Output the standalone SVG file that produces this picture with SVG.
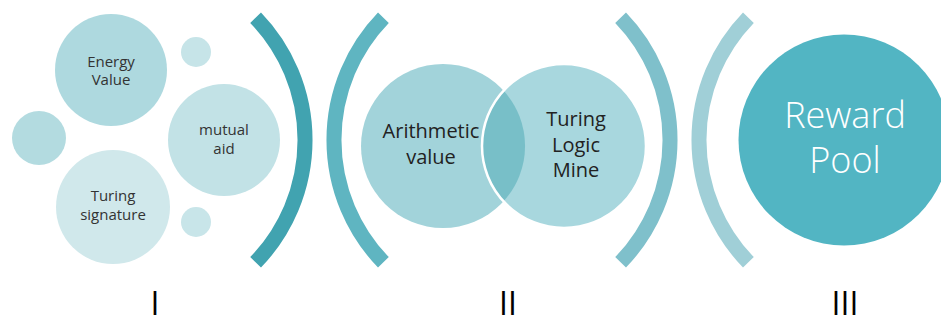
<svg xmlns="http://www.w3.org/2000/svg" width="941" height="325" viewBox="0 0 941 325">
<style>
  text { font-family: "Open Sans", "Liberation Sans", sans-serif; text-anchor: middle; }
  .s { font-size: 15px; fill: #333333; }
  .m { font-size: 20px; fill: #222222; }
  .big { font-size: 36px; fill: #ffffff; font-weight: 300; }
  .num { font-size: 32px; fill: #000000; font-weight: 400; }
  .arc { fill: none; stroke-width: 15; stroke-linecap: butt; }
</style>
<rect width="941" height="325" fill="#ffffff"/>

<g id="stage1">
  <g id="energy-value">
    <circle cx="111" cy="70" r="56" fill="#aed9df"/>
    <text class="s" x="111" y="67">Energy</text>
    <text class="s" x="111" y="85">Value</text>
  </g>
  <g id="dot-top"><circle cx="196" cy="52" r="15" fill="#c6e4e8"/></g>
  <g id="dot-left"><circle cx="39" cy="138" r="27" fill="#b3dbe0"/></g>
  <g id="mutual-aid">
    <circle cx="224" cy="140" r="56" fill="#c2e2e6"/>
    <text class="s" x="224" y="135">mutual</text>
    <text class="s" x="224" y="154">aid</text>
  </g>
  <g id="turing-signature">
    <circle cx="113" cy="207" r="57" fill="#d0e8eb"/>
    <text class="s" x="113" y="201">Turing</text>
    <text class="s" x="113" y="220">signature</text>
  </g>
  <g id="dot-bottom"><circle cx="196" cy="222" r="15" fill="#c8e5e9"/></g>
</g>

<g id="connectors">
  <path class="arc" stroke="#41a3b0" d="M 255.6 17.7 A 176 176 0 0 1 255.6 262.3"/>
  <path class="arc" stroke="#5fb5c1" d="M 383.4 17.7 A 176 176 0 0 0 383.4 262.3"/>
  <path class="arc" stroke="#7fc0cb" d="M 620.6 17.7 A 176 176 0 0 1 620.6 262.3"/>
  <path class="arc" stroke="#a0cfd7" d="M 748.4 17.7 A 176 176 0 0 0 748.4 262.3"/>
</g>

<g id="stage2">
  <g id="arithmetic-value">
    <circle cx="443" cy="146" r="82" fill="#a2d3da"/>
  </g>
  <g id="turing-logic-mine">
    <circle cx="564" cy="146" r="82" fill="#a8d7de"/>
  </g>
  <g id="overlap">
    <path d="M 503.5 90.6 A 82 82 0 0 1 503.5 201.4 A 82 82 0 0 1 503.5 90.6 Z" fill="#78bfc8"/>
    <circle cx="564" cy="146" r="82" fill="none" stroke="#ffffff" stroke-width="2.5"/>
  </g>
  <text class="m" x="431" y="138">Arithmetic</text>
  <text class="m" x="431" y="164">value</text>
  <text class="m" x="576" y="126">Turing</text>
  <text class="m" x="576" y="152">Logic</text>
  <text class="m" x="576" y="177">Mine</text>
</g>

<g id="reward-pool">
  <circle cx="844" cy="140" r="105.5" fill="#52b5c3"/>
  <text class="big" x="845" y="128">Reward</text>
  <text class="big" x="845" y="173">Pool</text>
</g>

<g id="labels">
  <text class="num" x="155" y="315">I</text>
  <text class="num" x="508" y="315">II</text>
  <text class="num" x="845" y="315">III</text>
</g>
</svg>
